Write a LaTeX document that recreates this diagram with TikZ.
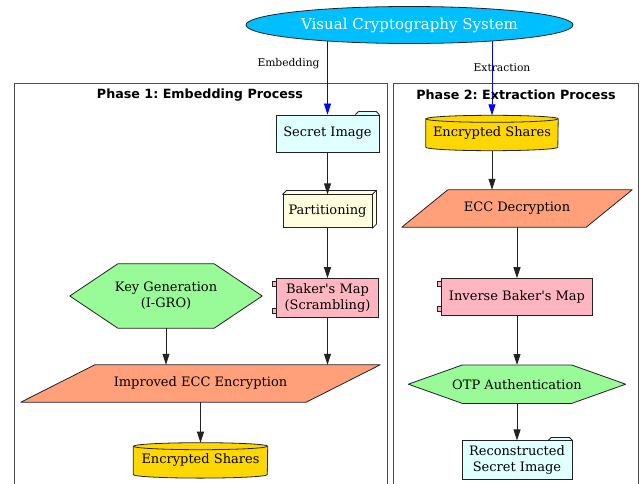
\documentclass[tikz,border=0pt]{standalone}
\usepackage{fontspec}
\setmainfont{DejaVu Serif}
\setsansfont{DejaVu Sans}
\frenchspacing
\usetikzlibrary{arrows.meta,positioning,calc,shapes.geometric}
\definecolor{Sky}{HTML}{00BFFF}
\definecolor{CyanSoft}{HTML}{E0FFFF}
\definecolor{YellowSoft}{HTML}{FFFFE0}
\definecolor{PinkSoft}{HTML}{FFB6C1}
\definecolor{GreenSoft}{HTML}{98FB98}
\definecolor{Salmon}{HTML}{FFA07A}
\definecolor{Gold}{HTML}{FFD700}
\definecolor{Ink}{HTML}{222222}
\definecolor{Frame}{HTML}{4D4D4D}
\definecolor{Link}{HTML}{0000FF}
\pgfdeclarelayer{background}
\pgfsetlayers{background,main}
\tikzset{
  txt/.style={align=center,inner sep=0pt,font=\fontsize{13}{16}\selectfont},
  outline/.style={draw=Ink,line width=.8pt},
  cluster/.style={draw=Frame,line width=.8pt},
  title/.style={font=\sffamily\bfseries\fontsize{12.7}{15}\selectfont},
  edgetext/.style={font=\fontsize{10.7}{12}\selectfont},
  system/.style={ellipse,outline,fill=Sky,text=white,minimum width=327,minimum height=37,inner sep=0pt,font=\fontsize{15}{17}\selectfont},
  folder/.style={txt,outline,fill=CyanSoft,
    append after command={\pgfextra{\let\thisnode\tikzlastnode
      \fill[CyanSoft] ($(\thisnode.north east)+(-24,-.5)$) -- ++(3,3.5) -- ($(\thisnode.north east)+(-3,3)$) -- ($(\thisnode.north east)+(-.4,-.5)$) -- cycle;
      \draw[outline,line join=round] ($(\thisnode.north east)+(-24,0)$) -- ++(3,3) -- ($(\thisnode.north east)+(-3,3)$) -- (\thisnode.north east);}}},
  cube/.style={txt,outline,fill=YellowSoft,
    append after command={\pgfextra{\let\thisnode\tikzlastnode
      \filldraw[outline,fill=YellowSoft,line join=round] (\thisnode.north west) -- ++(4,4) -- ($(\thisnode.north east)+(4,4)$) -- ($(\thisnode.south east)+(4,4)$) -- (\thisnode.south east) -- (\thisnode.north east) -- cycle;
      \draw[outline] (\thisnode.north east) -- ++(4,4);}}},
  module/.style={txt,outline,fill=PinkSoft,
    append after command={\pgfextra{\let\thisnode\tikzlastnode
      \filldraw[outline,fill=PinkSoft] ($(\thisnode.north west)+(-4,-3)$) rectangle ++(8,-5);
      \filldraw[outline,fill=PinkSoft] ($(\thisnode.south west)+(-4,10)$) rectangle ++(8,-5);}}},
  store/.style={txt,minimum width={2*#1},minimum height=28,
    append after command={\pgfextra{\let\thisnode\tikzlastnode
      \begin{pgfonlayer}{background}
      \filldraw[outline,fill=Gold] (\thisnode.north west) -- (\thisnode.south west) arc[start angle=180,end angle=360,x radius=#1,y radius=3.5] -- (\thisnode.north east) arc[start angle=0,end angle=180,x radius=#1,y radius=3.5] -- cycle;
      \draw[outline] (\thisnode.north west) arc[start angle=180,end angle=360,x radius=#1,y radius=3.5];
      \end{pgfonlayer}}}},
  hexa/.style 2 args={txt,
    append after command={\pgfextra{\let\thisnode\tikzlastnode
      \begin{pgfonlayer}{background}
      \filldraw[outline,fill=#1,line join=round] (\thisnode.west) -- ($(\thisnode.north west)+(#2,0)$) -- ($(\thisnode.north east)+(-#2,0)$) -- (\thisnode.east) -- ($(\thisnode.south east)+(-#2,0)$) -- ($(\thisnode.south west)+(#2,0)$) -- cycle;
      \end{pgfonlayer}}}},
  slanted/.style 2 args={txt,
    append after command={\pgfextra{\let\thisnode\tikzlastnode
      \begin{pgfonlayer}{background}
      \filldraw[outline,fill=#1,line join=round] (\thisnode.south west) -- ($(\thisnode.north west)+(#2,0)$) -- (\thisnode.north east) -- ($(\thisnode.south east)+(-#2,0)$) -- cycle;
      \end{pgfonlayer}}}},
  flow/.style={-{Triangle[length=11pt,width=7pt]},draw=Ink,line width=.8pt},
  feed/.style={flow,draw=Link}
}
\begin{document}
\begin{tikzpicture}[x=1pt,y=1pt]
  \useasboundingbox (0,0) rectangle (642,-484);
  \begin{pgfonlayer}{background}
    \draw[cluster] (14,-488) |- (387,-83) -- (387,-488);
    \draw[cluster] (393,-488) |- (638,-83) -- (638,-488);
  \end{pgfonlayer}
  \node[title] (phaseone) at (200,-95) {Phase 1: Embedding Process};
  \node[title] (phasetwo) at (516,-95) {Phase 2: Extraction Process};

  \node[system] (sys) at (409.5,-25) {Visual Cryptography System};

  % embedding side
  \node[folder,minimum width=103,minimum height=37] (secret) at (327.5,-133.5) {Secret Image};
  \node[cube,minimum width=89,minimum height=33,below=42pt of secret] (part) {Partitioning};
  \node[module,minimum width=102,minimum height=39,below=50pt of part] (baker) {Baker\textquotesingle s Map\\(Scrambling)};
  \node[hexa={GreenSoft}{48},minimum width=192,minimum height=64] (keygen) at (166,-296) {Key Generation\\(I-GRO)};
  \node[slanted={Salmon}{74},minimum width=359,minimum height=37] (enc) at (200.5,-383.5) {Improved ECC Encryption};
  \node[store=67,below=44pt of enc] (sharesA) {Encrypted Shares};

  % extraction side
  \node[store=66] (sharesB) at (492,-133) {Encrypted Shares};
  \node[slanted={Salmon}{46},minimum width=230,minimum height=37] (dec) at (517,-208.5) {ECC Decryption};
  \node[module,minimum width=151,minimum height=37,below=51pt of dec] (inv) {Inverse Baker\textquotesingle s Map};
  \node[hexa={GreenSoft}{54},minimum width=217,minimum height=38,below=49pt of inv] (otp) {OTP Authentication};
  \node[folder,minimum width=110,minimum height=39,below=37pt of otp] (recon) {Reconstructed\\Secret Image};

  % links from the system run under the ellipse
  \begin{pgfonlayer}{background}
    \draw[feed] (sys.center -| secret.north) -- (secret.north) node[edgetext,pos=.43,xshift=-39pt] {Embedding};
    \draw[feed] (sys.center -| sharesB.north) -- ([yshift=3.5pt]sharesB.north) node[edgetext,pos=.47,xshift=10pt] {Extraction};
  \end{pgfonlayer}

  \draw[flow] (secret) -- (part);
  \draw[flow] (part) -- (baker);
  \draw[flow] (baker.south) -- (baker.south |- enc.north);
  \draw[flow] (keygen.south) -- (keygen.south |- enc.north);
  \draw[flow] (enc.south) -- ([yshift=3.5pt]enc.south |- sharesA.north);

  \draw[flow] ([yshift=-3.5pt]sharesB.south) -- (sharesB.south |- dec.north);
  \draw[flow] (dec) -- (inv);
  \draw[flow] (inv) -- (otp);
  \draw[flow] (otp) -- (recon);
\end{tikzpicture}
\end{document}
